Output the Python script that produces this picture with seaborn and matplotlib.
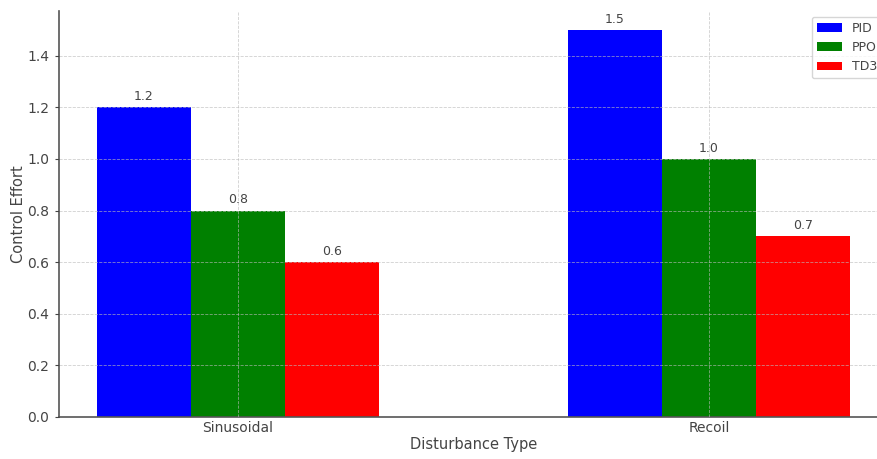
import matplotlib
matplotlib.use("Agg")
import matplotlib.pyplot as plt
import seaborn as sns
import pandas as pd

disturbances = ["Sinusoidal", "Recoil"]
controllers = ["PID", "PPO", "TD3"]
pid_effort = [1.2, 1.5]
ppo_effort = [0.8, 1.0]
td3_effort = [0.6, 0.7]
colors = ["blue", "green", "red"]

rows = []
for name, vals in zip(controllers, [pid_effort, ppo_effort, td3_effort]):
    for d, v in zip(disturbances, vals):
        rows.append({"Disturbance Type": d, "Controller": name, "Control Effort": v})
df = pd.DataFrame(rows)

sns.set_style("white")
plt.rcParams["font.family"] = ["DejaVu Sans"]

fig = plt.figure(figsize=(8.78, 4.59), dpi=100)
ax = fig.add_axes([59 / 878, 42 / 459, 829 / 878, (417 - 10.6) / 459])

sns.barplot(data=df, x="Disturbance Type", y="Control Effort", hue="Controller",
            palette=colors, width=0.6, saturation=1, errorbar=None,
            linewidth=0, edgecolor="none", ax=ax)

for cont in ax.containers:
    ax.bar_label(cont, fmt="%.1f", padding=3, fontsize=9, color="#444444")

ax.set_xlim(-0.38, 1.38)
ax.set_ylim(0, 1.575)
ax.set_yticks([0.0, 0.2, 0.4, 0.6, 0.8, 1.0, 1.2, 1.4])
ax.set_yticklabels([f"{t:.1f}" for t in ax.get_yticks()])
ax.grid(True, linestyle="--", color="#bbbbbb", linewidth=0.6, alpha=0.7)
ax.set_axisbelow(False)
for s in ["top", "right"]:
    ax.spines[s].set_visible(False)
for s in ["left", "bottom"]:
    ax.spines[s].set_color("#555555")
    ax.spines[s].set_linewidth(1.2)
ax.tick_params(axis="y", colors="#444444", labelsize=10, length=3, pad=4, left=True)
ax.tick_params(axis="x", colors="#444444", labelsize=10, length=0, pad=3)
ax.set_xlabel("Disturbance Type", fontsize=10.5, color="#444444", labelpad=1)
ax.set_ylabel("Control Effort", fontsize=10.5, color="#444444", labelpad=1)

leg = ax.legend(loc="upper right", fontsize=9, frameon=True, title=None)
leg.get_frame().set_edgecolor("#cccccc")
for t in leg.get_texts():
    t.set_color("#444444")

fig.savefig("out.png", dpi=100)
